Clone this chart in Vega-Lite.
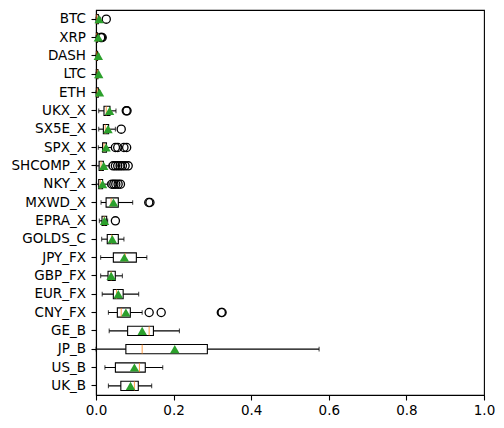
{
  "$schema": "https://vega.github.io/schema/vega-lite/v6.json",
  "autosize": {"type": "none"},
  "padding": {"left": 96, "top": 10, "right": 20, "bottom": 33},
  "width": 388,
  "height": 385,
  "background": "white",
  "config": {
    "view": {"stroke": "black", "strokeWidth": 1.1},
    "font": "DejaVu Sans",
    "axis": {"labelFont": "DejaVu Sans", "labelFontSize": 13.5, "labelColor": "black", "tickColor": "black", "domainColor": "black", "tickSize": 5, "grid": false, "title": null, "domainWidth": 1.1, "tickWidth": 1.1, "labelFlush": false, "labelOverlap": false}
  },
  "datasets": {
    "stats": [
      {"name": "BTC", "lo": 0.0, "q1": 0.001, "med": 0.002, "q3": 0.006, "hi": 0.011, "mean": 0.008},
      {"name": "XRP", "lo": 0.0, "q1": 0.001, "med": 0.002, "q3": 0.004, "hi": 0.008, "mean": 0.006},
      {"name": "DASH", "lo": 0.0, "q1": 0.001, "med": 0.002, "q3": 0.004, "hi": 0.008, "mean": 0.006},
      {"name": "LTC", "lo": 0.0, "q1": 0.001, "med": 0.003, "q3": 0.005, "hi": 0.009, "mean": 0.007},
      {"name": "ETH", "lo": 0.0, "q1": 0.001, "med": 0.003, "q3": 0.006, "hi": 0.01, "mean": 0.009},
      {"name": "UKX_X", "lo": 0.007, "q1": 0.0206, "med": 0.0265, "q3": 0.036, "hi": 0.0515, "mean": 0.035},
      {"name": "SX5E_X", "lo": 0.007, "q1": 0.019, "med": 0.024, "q3": 0.0325, "hi": 0.05, "mean": 0.031},
      {"name": "SPX_X", "lo": 0.006, "q1": 0.017, "med": 0.0206, "q3": 0.027, "hi": 0.04, "mean": 0.026},
      {"name": "SHCOMP_X", "lo": 0.001, "q1": 0.008, "med": 0.013, "q3": 0.019, "hi": 0.034, "mean": 0.02},
      {"name": "NKY_X", "lo": 0.001, "q1": 0.007, "med": 0.011, "q3": 0.017, "hi": 0.03, "mean": 0.017},
      {"name": "MXWD_X", "lo": 0.013, "q1": 0.026, "med": 0.039, "q3": 0.0575, "hi": 0.0945, "mean": 0.045},
      {"name": "EPRA_X", "lo": 0.0086, "q1": 0.0155, "med": 0.021, "q3": 0.0275, "hi": 0.03, "mean": 0.022},
      {"name": "GOLDS_C", "lo": 0.0146, "q1": 0.029, "med": 0.04, "q3": 0.0575, "hi": 0.072, "mean": 0.042},
      {"name": "JPY_FX", "lo": 0.012, "q1": 0.0447, "med": 0.0755, "q3": 0.104, "hi": 0.131, "mean": 0.073},
      {"name": "GBP_FX", "lo": 0.012, "q1": 0.031, "med": 0.039, "q3": 0.0497, "hi": 0.068, "mean": 0.039},
      {"name": "EUR_FX", "lo": 0.016, "q1": 0.0447, "med": 0.053, "q3": 0.07, "hi": 0.11, "mean": 0.0575},
      {"name": "CNY_FX", "lo": 0.032, "q1": 0.055, "med": 0.065, "q3": 0.0885, "hi": 0.119, "mean": 0.077},
      {"name": "GE_B", "lo": 0.034, "q1": 0.0815, "med": 0.137, "q3": 0.148, "hi": 0.215, "mean": 0.119},
      {"name": "JP_B", "lo": 0.0, "q1": 0.077, "med": 0.119, "q3": 0.287, "hi": 0.575, "mean": 0.203},
      {"name": "US_B", "lo": 0.023, "q1": 0.05, "med": 0.112, "q3": 0.127, "hi": 0.172, "mean": 0.099},
      {"name": "UK_B", "lo": 0.032, "q1": 0.064, "med": 0.099, "q3": 0.109, "hi": 0.1435, "mean": 0.089}
    ],
    "outliers": [
      {"name": "BTC", "v": 0.0265},
      {"name": "XRP", "v": 0.012},
      {"name": "XRP", "v": 0.014},
      {"name": "XRP", "v": 0.016},
      {"name": "UKX_X", "v": 0.078},
      {"name": "UKX_X", "v": 0.08},
      {"name": "SX5E_X", "v": 0.065},
      {"name": "SPX_X", "v": 0.05},
      {"name": "SPX_X", "v": 0.056},
      {"name": "SPX_X", "v": 0.072},
      {"name": "SPX_X", "v": 0.079},
      {"name": "SHCOMP_X", "v": 0.044},
      {"name": "SHCOMP_X", "v": 0.05},
      {"name": "SHCOMP_X", "v": 0.056},
      {"name": "SHCOMP_X", "v": 0.062},
      {"name": "SHCOMP_X", "v": 0.068},
      {"name": "SHCOMP_X", "v": 0.075},
      {"name": "SHCOMP_X", "v": 0.083},
      {"name": "NKY_X", "v": 0.041},
      {"name": "NKY_X", "v": 0.046},
      {"name": "NKY_X", "v": 0.051},
      {"name": "NKY_X", "v": 0.057},
      {"name": "NKY_X", "v": 0.063},
      {"name": "MXWD_X", "v": 0.136},
      {"name": "MXWD_X", "v": 0.139},
      {"name": "EPRA_X", "v": 0.05},
      {"name": "CNY_FX", "v": 0.137},
      {"name": "CNY_FX", "v": 0.168},
      {"name": "CNY_FX", "v": 0.323},
      {"name": "CNY_FX", "v": 0.325}
    ]
  },
  "encoding": {
    "y": {"field": "name", "type": "nominal", "sort": ["BTC","XRP","DASH","LTC","ETH","UKX_X","SX5E_X","SPX_X","SHCOMP_X","NKY_X","MXWD_X","EPRA_X","GOLDS_C","JPY_FX","GBP_FX","EUR_FX","CNY_FX","GE_B","JP_B","US_B","UK_B"],
      "scale": {"paddingInner": 0, "paddingOuter": 0}, "axis": {"labelPadding": 5.5}}
  },
  "layer": [
    {
      "data": {"name": "stats"},
      "mark": {"type": "rule", "color": "black", "strokeWidth": 1.1},
      "encoding": {"x": {"field": "lo", "type": "quantitative", "scale": {"domain": [0, 1], "nice": false, "clamp": true}, "axis": {"values": [0, 0.2, 0.4, 0.6, 0.8, 1.0], "format": ".1f", "labelPadding": 3}}, "x2": {"field": "hi"}}
    },
    {
      "data": {"name": "stats"},
      "mark": {"type": "tick", "color": "black", "size": 4.6, "thickness": 1.1, "orient": "vertical"},
      "encoding": {"x": {"field": "lo", "type": "quantitative"}}
    },
    {
      "data": {"name": "stats"},
      "mark": {"type": "tick", "color": "black", "size": 4.6, "thickness": 1.1, "orient": "vertical"},
      "encoding": {"x": {"field": "hi", "type": "quantitative"}}
    },
    {
      "data": {"name": "stats"},
      "mark": {"type": "bar", "fill": "white", "stroke": "black", "strokeWidth": 1.1, "size": 9.2},
      "encoding": {"x": {"field": "q1", "type": "quantitative"}, "x2": {"field": "q3"}}
    },
    {
      "data": {"name": "stats"},
      "mark": {"type": "tick", "color": "#ff7f0e", "size": 9.2, "thickness": 1.1, "orient": "vertical"},
      "encoding": {"x": {"field": "med", "type": "quantitative"}}
    },
    {
      "data": {"name": "outliers"},
      "mark": {"type": "point", "shape": "circle", "filled": false, "stroke": "black", "strokeWidth": 1.3, "size": 66, "opacity": 1},
      "encoding": {"x": {"field": "v", "type": "quantitative"}}
    },
    {
      "data": {"name": "stats"},
      "mark": {"type": "point", "shape": "triangle-up", "filled": true, "color": "#2ca02c", "size": 88, "opacity": 1},
      "encoding": {"x": {"field": "mean", "type": "quantitative"}}
    }
  ]
}
